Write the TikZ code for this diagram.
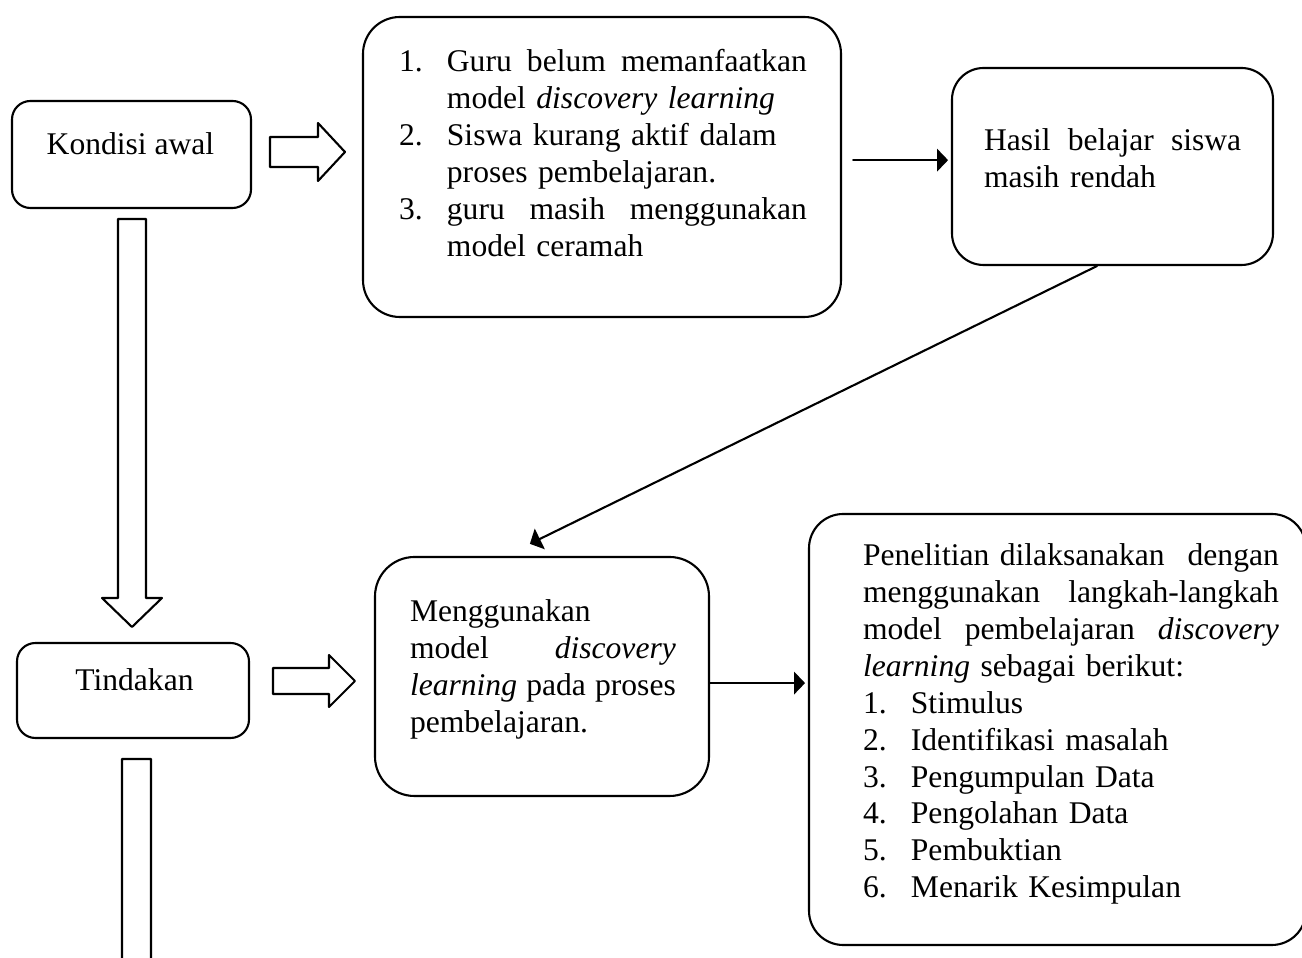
\documentclass[tikz,border=0pt]{standalone}
\usepackage{fontspec}
\setmainfont{Liberation Serif}
\usetikzlibrary{arrows.meta}
\newcommand{\panahblok}[7]{%
  \draw[shift={(#1,#2)},rotate=#3] (0,-#5) -- (#4,-#5) -- (#4,-#7) -- ({#4+#6},0) -- (#4,#7) -- (#4,#5) -- (0,#5) -- cycle;}
\newcommand{\butir}[1]{\makebox[18.2pt][l]{#1}}
\newcommand{\lanjut}{\hspace*{18.2pt}}
\newcommand{\rata}[2]{\makebox[#1][l]{#2}}

\begin{document}
\begin{tikzpicture}[line cap=round,line join=round,x=0.38pt,y=-0.38pt,line width=0.8pt,
    >={Triangle[length=4.2pt,width=8.6pt]},
    kotak/.style={draw,inner sep=0pt},
    teks/.style={inner sep=0pt,font=\fontsize{12}{14}\selectfont},
    isi/.style={teks,anchor=base west,align=left}]
	\useasboundingbox (0,0) rectangle (1302,958);
	\clip (0,0) rectangle (1302,958);
	\node[kotak,rounded corners=7pt,minimum width=239*0.38pt,minimum height=107*0.38pt] (awal) at (131.5,154.5) {};
	\node[kotak,rounded corners=7pt,minimum width=232*0.38pt,minimum height=95*0.38pt] (tindakan) at (133,690.5) {};
	\node[kotak,rounded corners=14pt,minimum width=478*0.38pt,minimum height=300*0.38pt] (masalah) at (602,167) {};
	\node[kotak,rounded corners=12pt,minimum width=321*0.38pt,minimum height=197*0.38pt] (hasil) at (1112.5,166.5) {};
	\node[kotak,rounded corners=15pt,minimum width=334*0.38pt,minimum height=239*0.38pt] (guna) at (542,676.5) {};
	\node[kotak,rounded corners=13pt,minimum width=497*0.38pt,minimum height=431*0.38pt] (langkah) at (1057.5,729.5) {};
	\node[teks,anchor=base] (awaltxt) at (130.5,155) {Kondisi awal};
	\node[teks,anchor=base] (tindakantxt) at (134.5,691) {Tindakan};
	\node[isi,text width=155pt] (masalahtxt) at (398,72) {%
		\butir{1.}\rata{136.8pt}{Guru\hfill belum\hfill memanfaatkan}\\
		\lanjut model \textit{discovery learning}\\
		\butir{2.}Siswa kurang aktif dalam\\
		\lanjut proses pembelajaran.\\
		\butir{3.}\rata{136.8pt}{guru\hfill masih\hfill menggunakan}\\
		\lanjut model ceramah};
	\node[isi,text width=97.7pt] (hasiltxt) at (983,151) {%
		\rata{97.7pt}{Hasil\hfill belajar\hfill siswa}\\
		masih rendah};
	\node[isi,text width=101pt] (gunatxt) at (409,622) {%
		Menggunakan\\
		\rata{101pt}{model\hfill \textit{discovery}}\\
		\rata{101pt}{\textit{learning}\hfill pada\hfill proses}\\
		pembelajaran.};
	\node[isi,text width=158pt] (langkahtxt) at (862,566) {%
		\rata{158pt}{Penelitian dilaksanakan\hfill dengan}\\
		\rata{158pt}{menggunakan\hfill langkah-langkah}\\
		\rata{158pt}{model\hfill pembelajaran\hfill \textit{discovery}}\\
		\textit{learning} sebagai berikut:\\
		\butir{1.}Stimulus\\
		\butir{2.}Identifikasi masalah\\
		\butir{3.}Pengumpulan Data\\
		\butir{4.}Pengolahan Data\\
		\butir{5.}Pembuktian\\
		\butir{6.}Menarik Kesimpulan};
	\panahblok{270}{152}{0}{48}{15}{27}{29}
	\panahblok{273}{681}{0}{56}{13}{26}{26}
	\panahblok{132}{219}{-90}{379}{14}{29}{30}
	\panahblok{136.5}{759}{-90}{300}{14.5}{29}{30}
	\coordinate (m1) at ([xshift=4.2pt,yshift=2.6pt]masalah.east);
	\coordinate (g1) at ([yshift=-2.5pt]guna.east);
	\draw[->,shorten >=1.1pt] (m1) -- (m1 -| hasil.west);
	\draw[->] ([xshift=-5.9pt]hasil.south) -- ([xshift=-4.6pt,yshift=4.6pt]guna.north);
	\draw[->,shorten >=1.1pt] (g1) -- (g1 -| langkah.west);
\end{tikzpicture}
\end{document}
